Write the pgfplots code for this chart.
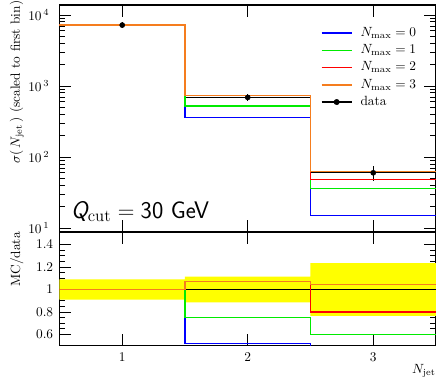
\documentclass[border=0pt]{standalone}
\usepackage{fontspec}
\usepackage{pgfplots}
\pgfplotsset{compat=1.18}
\definecolor{mcblue}{RGB}{0,0,255}
\definecolor{mcgreen}{RGB}{0,235,0}
\definecolor{mcred}{RGB}{255,0,0}
\definecolor{mcorange}{RGB}{245,125,30}
\definecolor{band}{RGB}{255,255,0}
\pgfplotsset{
  common/.style={
    scale only axis, width=282.4pt, xmin=0.5, xmax=3.5, xtick={1,2,3},
    tick align=inside, major tick length=9pt, minor tick length=4.5pt,
    axis line style={line width=0.8pt},
    every tick/.append style={line width=0.6pt, black},
  },
  hist/.style={const plot, line width=1.2pt},
}
\begin{document}
\begin{tikzpicture}
\begin{axis}[common, name=top, at={(0,85.3pt)}, anchor=south west, height=170.25pt,
  ymode=log, ymin=8.8, ymax=13800, xticklabels={},
  ytick={10,100,1000,10000},
  yticklabels={$10^{\,1}$,$10^{\,2}$,$10^{\,3}$,$10^{\,4}$},
  minor ytick={9,20,30,40,50,60,70,80,90,200,300,400,500,600,700,800,900,2000,3000,4000,5000,6000,7000,8000,9000},
  yticklabel style={xshift=-4pt},
  ylabel={$\sigma(\,N_{\mathrm{jet}}\,)$ (scaled to first bin)},
  ylabel style={at={(axis description cs:-0.113,1.02)}, anchor=east, inner sep=0pt},
  legend style={at={(axis description cs:0.683,0.915)}, anchor=north west, draw=none, fill=none,
    nodes={inner sep=0pt, text height=7pt, text depth=2pt}, row sep=3.9pt, column sep=6pt},
  legend cell align=left,
  legend image code/.code={\draw[#1] (0pt,0pt) -- (22.5pt,0pt);},
]
\addplot[forget plot, draw=none, mark=none,
  error bars/.cd, x dir=both, x explicit, y dir=both, y explicit,
  error bar style={line width=1pt, black}, error mark=none]
  coordinates {(1,7200) +- (0.5,650) (2,690) +- (0.5,79) (3,60) +- (0.5,14)};
\addplot[hist, mcblue] coordinates {(0.5,7200) (1.5,359) (2.5,15) (3.5,15)};
\addlegendentry{$N_{\mathrm{max}} = 0$}
\addplot[hist, mcgreen] coordinates {(0.5,7200) (1.5,518) (2.5,36) (3.5,36)};
\addlegendentry{$N_{\mathrm{max}} = 1$}
\addplot[hist, mcred] coordinates {(0.5,7200) (1.5,738) (2.5,48) (3.5,48)};
\addlegendentry{$N_{\mathrm{max}} = 2$}
\addplot[hist, mcorange] coordinates {(0.5,7200) (1.5,738) (2.5,62.6) (3.5,62.6)};
\addlegendentry{$N_{\mathrm{max}} = 3$}
\addplot[black, only marks, mark=*, mark size=1.9pt,
  legend image code/.code={\draw[black,line width=1pt] (0pt,0pt) -- (22.5pt,0pt); \fill[black] (11.25pt,0pt) circle (2pt);}]
  coordinates {(1,7200) (2,690) (3,60)};
\addlegendentry{data}
\node[anchor=base west, inner sep=0pt, font=\fontsize{18}{20}\selectfont] at (rel axis cs:0.0305,0.060)
  {{\sffamily\slshape Q}$_{\mathrm{cut}} = \mbox{\sffamily 30 GeV}$};
\end{axis}
\begin{axis}[common, name=bot, at={(0,0)}, anchor=south west, height=85.3pt,
  ymin=0.5, ymax=1.51, ytick={0.6,0.8,1,1.2,1.4}, minor y tick num=3,
  yticklabel style={xshift=-1.2pt},
  xticklabel style={yshift=-1.5pt},
  xlabel={$N_{\mathrm{jet}}$},
  xlabel style={at={(axis description cs:1,0)}, anchor=north east, yshift=-14pt, inner sep=0pt},
  ylabel={MC/data},
  ylabel style={at={(axis description cs:-0.113,1)}, anchor=east, inner sep=0pt},
]
\addplot[fill=band, draw=none] coordinates {(0.5,0.91) (1.5,0.91) (1.5,0.886) (2.5,0.886) (2.5,0.766) (3.5,0.766) (3.5,1.234) (2.5,1.234) (2.5,1.114) (1.5,1.114) (1.5,1.09) (0.5,1.09)} -- cycle;
\addplot[hist, black, line width=1pt] coordinates {(0.5,1) (3.5,1)};
\addplot[hist, mcblue] coordinates {(0.5,1) (1.5,0.52) (2.5,0.25) (3.5,0.25)};
\addplot[hist, mcgreen] coordinates {(0.5,1) (1.5,0.75) (2.5,0.6) (3.5,0.6)};
\addplot[hist, mcred] coordinates {(0.5,1) (1.5,1.07) (2.5,0.8) (3.5,0.8)};
\addplot[hist, mcorange] coordinates {(0.5,1) (1.5,1.07) (2.5,1.044) (3.5,1.044)};
\end{axis}
\pgfresetboundingbox
\path[use as bounding box] (-44.6pt,-25.7pt) rectangle (282.4pt,259.3pt);
\end{tikzpicture}
\end{document}
